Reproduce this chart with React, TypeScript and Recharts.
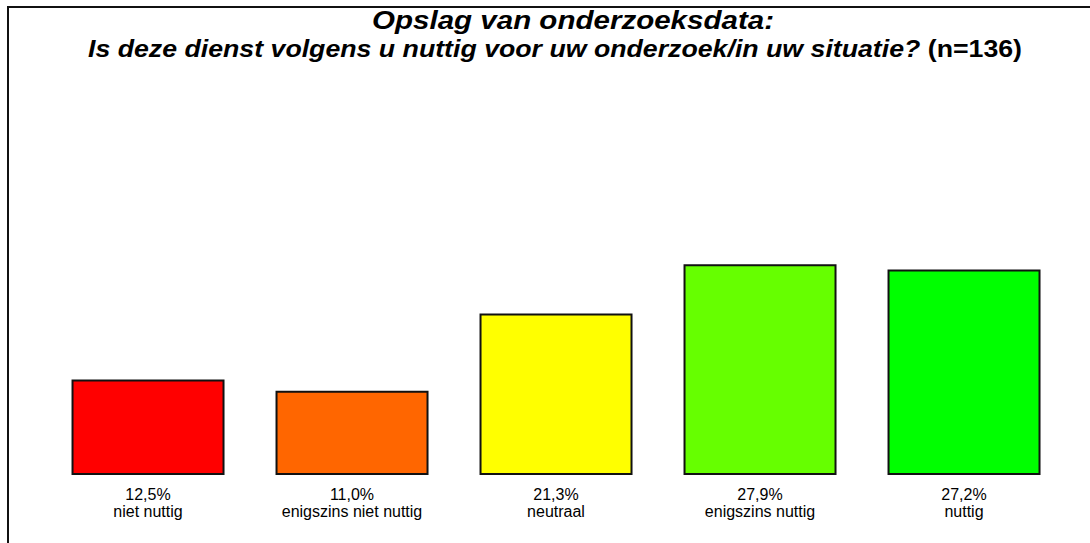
import { Bar, BarChart, Cell, XAxis, YAxis } from "recharts";

const categories = [
  "niet nuttig",
  "enigszins niet nuttig",
  "neutraal",
  "enigszins nuttig",
  "nuttig",
];
const percentages = [12.5, 11.0, 21.3, 27.9, 27.2];
const colors = ["#FF0000", "#FF6600", "#FFFF00", "#66FF00", "#00FF00"];

const titleLine1 = "Opslag van onderzoeksdata:";
const titleLine2 = "Is deze dienst volgens u nuttig voor uw onderzoek/in uw situatie?";
const sampleSize = "(n=136)";

const data = categories.map((name, i) => ({
  name,
  value: percentages[i],
}));

const fmt = (v: number) => v.toFixed(1).replace(".", ",") + "%";

const font = "Arial, 'Liberation Sans', Helvetica, sans-serif";

function Tick(props: any) {
  const { x, y, payload, index } = props;
  return (
    <g>
      <text
        x={x}
        y={y + 18}
        textAnchor="middle"
        fontFamily={font}
        fontSize={16}
        fill="#000"
      >
        {fmt(percentages[index])}
      </text>
      <text
        x={x}
        y={y + 35}
        textAnchor="middle"
        fontFamily={font}
        fontSize={16}
        fill="#000"
      >
        {payload.value}
      </text>
    </g>
  );
}

export default function App() {
  return (
    <div
      style={{
        position: "absolute",
        left: 0,
        top: 0,
        width: 1090,
        height: 543,
        background: "#fff",
        overflow: "hidden",
      }}
    >
      <div
        style={{
          position: "absolute",
          left: 7,
          top: 6,
          width: 1083,
          height: 2,
          background: "#111",
        }}
      />
      <div
        style={{
          position: "absolute",
          left: 7,
          top: 6,
          width: 2,
          height: 537,
          background: "#111",
        }}
      />
      <svg
        width={1090}
        height={80}
        style={{ position: "absolute", left: 0, top: 0 }}
      >
        <text
          x={372}
          y={29}
          textLength={402}
          lengthAdjust="spacingAndGlyphs"
          fontFamily={font}
          fontSize={25}
          fontWeight="bold"
          fontStyle="italic"
        >
          {titleLine1}
        </text>
        <text
          x={88}
          y={57}
          textLength={934}
          lengthAdjust="spacingAndGlyphs"
          fontFamily={font}
          fontSize={24}
          fontWeight="bold"
        >
          <tspan fontStyle="italic">{titleLine2}</tspan>
          <tspan> {sampleSize}</tspan>
        </text>
      </svg>
      <div style={{ position: "absolute", left: 0, top: 0 }}>
        <BarChart
          width={1090}
          height={543}
          data={data}
          margin={{ top: 212, right: 24, bottom: 0, left: 46 }}
          barCategoryGap="13%"
        >
          <XAxis
            dataKey="name"
            axisLine={false}
            tickLine={false}
            height={69}
            interval={0}
            tick={<Tick />}
          />
          <YAxis hide domain={[0, 35]} />
          <Bar
            dataKey="value"
            stroke="#111"
            strokeWidth={2}
            isAnimationActive={false}
          >
            {data.map((d, i) => (
              <Cell key={d.name} fill={colors[i]} />
            ))}
          </Bar>
        </BarChart>
      </div>
    </div>
  );
}
